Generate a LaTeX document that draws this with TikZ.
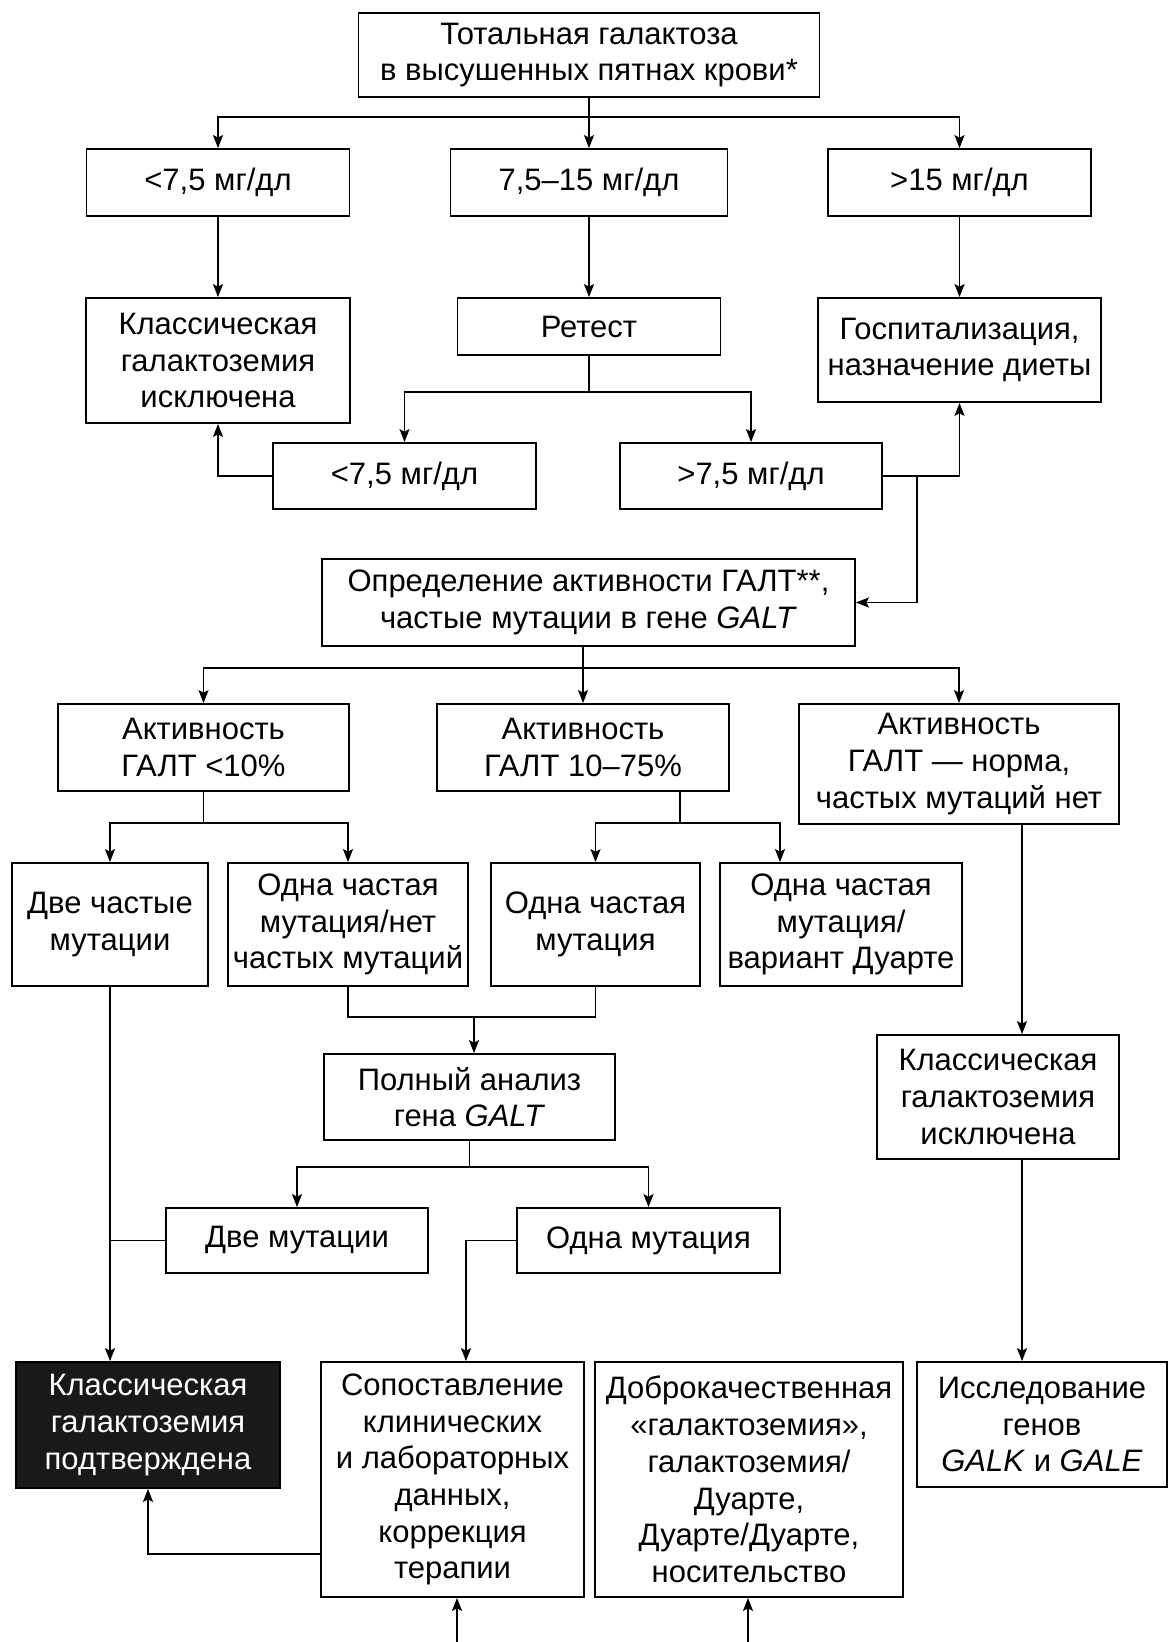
\documentclass[tikz,border=0pt]{standalone}
\usepackage{fontspec}
\setmainfont{Liberation Sans}
\usepackage{tikz}
\usetikzlibrary{positioning,arrows.meta}
\tikzset{>={Stealth[length=6.5pt,width=5pt,inset=1.3pt]}}
\tikzset{
  box/.style={draw,line width=0.9pt,align=center,inner sep=2pt,
    font=\fontsize{15.5pt}{18.35pt}\selectfont},
  wh/.style 2 args={minimum width=#1*0.5pt,minimum height=#2*0.5pt},
  darkbox/.style={box,fill=black!90,text=white},
}

\begin{document}
\begin{tikzpicture}[x=0.5pt,y=-0.5pt,line width=0.9pt]
    \useasboundingbox (0,0) rectangle (1168,1642);

    \node [box,wh={461}{84}] (top) at (589,55) {Тотальная галактоза\\в высушенных пятнах крови*};
    \node [box,wh={263}{67}] (lowA) at (218,182.5) {<7,5 мг/дл};
    \node [box,wh={277}{67}] (midA) at (589,182.5) {7,5–15 мг/дл};
    \node [box,wh={263}{67}] (highA) at (959.5,182.5) {>15 мг/дл};

    \node [box,wh={264}{125}] (exclA) at (218,360.5) {Классическая\\галактоземия\\исключена};
    \node [box,wh={263}{57}] (retest) at (589,326.5) {Ретест};
    \node [box,wh={283}{104}] (hosp) at (959.5,350) {Госпитализация,\\назначение диеты};
    \node [box,wh={263}{66}] (lowB) at (404.5,476) {<7,5 мг/дл};
    \node [box,wh={262}{66}] (highB) at (751,476) {>7,5 мг/дл};

    \node [box,wh={533}{87}] (galt) at (588.5,602.5) {Определение активности ГАЛТ**,\\частые мутации в гене \textit{GALT}};
    \node [box,wh={291}{87}] (actA) at (203.5,747.5) {Активность\\ГАЛТ <10\%};
    \node [box,wh={292}{87}] (actB) at (583,747.5) {Активность\\ГАЛТ 10–75\%};
    \node [box,wh={320}{120}] (actC) at (959,764) {Активность\\ГАЛТ — норма,\\частых мутаций нет};

    \node [box,wh={196}{123}] (twoC) at (110,924.5) {Две частые\\мутации};
    \node [box,wh={240}{123}] (oneNone) at (348,924.5) {Одна частая\\мутация/нет\\частых мутаций};
    \node [box,wh={209}{123}] (oneC) at (595.5,924.5) {Одна частая\\мутация};
    \node [box,wh={242}{123}] (oneDuarte) at (841,924.5) {Одна частая\\мутация/\\вариант Дуарте};

    \node [box,wh={291}{86}] (fullSeq) at (469.5,1097) {Полный анализ\\гена \textit{GALT}};
    \node [box,wh={242}{124}] (exclB) at (998,1097) {Классическая\\галактоземия\\исключена};
    \node [box,wh={262}{65}] (twoMut) at (297,1240.5) {Две мутации};
    \node [box,wh={263}{65}] (oneMut) at (648.5,1240.5) {Одна мутация};

    \node [darkbox,wh={264}{126}] (confirmed) at (148,1425) {Классическая\\галактоземия\\подтверждена};
    \node [box,wh={263}{235}] (compare) at (452.5,1479.5) {Сопоставление\\клинических\\и лабораторных\\данных,\\коррекция\\терапии};
    \node [box,wh={308}{235}] (benign) at (749,1479.5) {Доброкачественная\\«галактоземия»,\\галактоземия/\\Дуарте,\\Дуарте/Дуарте,\\носительство};
    \node [box,wh={250}{125}] (genes) at (1042,1424.5) {Исследование\\генов\\\textit{GALK} и \textit{GALE}};

    \coordinate (j1) at (589,117);
    \coordinate (j2) at (589,392);
    \coordinate (j3) at (917,476);
    \coordinate (j4) at (583,668);
    \coordinate (j5) at (203.5,823);
    \coordinate (j6) at (680,823);
    \coordinate (j7) at (780,823);
    \coordinate (j8) at (474,1017);
    \coordinate (xr) at (1022,1000);
    \coordinate (j10) at (469.5,1167);
    \coordinate (j11) at (466,1240.5);
    \coordinate (j12) at (148,1554);
    \coordinate (inA) at (457,1642);
    \coordinate (inB) at (748,1642);

    \path [draw,->] (top) edge (midA);
    \draw [->] (j1) -| (lowA);
    \draw [->] (j1) -| (highA);
    \path [draw,->] (lowA) edge (exclA);
    \path [draw,->] (midA) edge (retest);
    \path [draw,->] (highA) edge (hosp);

    \draw (retest) -- (j2);
    \draw [->] (j2) -| (lowB);
    \draw [->] (j2) -| (highB);
    \draw [->] (lowB.west) -| (exclA.south);
    \draw [->] (highB.east) -| (hosp.south);
    \draw [->] (j3) |- (galt.east);

    \draw [->] (galt.south -| j4) -- (actB);
    \draw [->] (j4) -| (actA);
    \draw [->] (j4) -| (actC);

    \draw (actA) -- (j5);
    \draw [->] (j5) -| (twoC);
    \draw [->] (j5) -| (oneNone);
    \draw (actB.south -| j6) -- (j6);
    \draw [->] (j6) -| (oneC);
    \draw [->] (j6) -- (j7) -- (j7 |- oneDuarte.north);

    \draw (oneNone.south) -- (oneNone.south |- j8) -| (oneC.south);
    \draw [->] (j8) -- (j8 |- fullSeq.north);

    \draw [->] (actC.south -| xr) -- (exclB.north -| xr);
    \draw [->] (exclB.south -| xr) -- (genes.north -| xr);

    \draw (fullSeq) -- (j10);
    \draw [->] (j10) -| (twoMut);
    \draw [->] (j10) -| (oneMut);

    \draw [->] (twoC.south) -- (twoC.south |- confirmed.north);
    \draw (twoMut.west) -- (twoMut.west -| twoC.south);
    \draw [->] (oneMut.west) -- (j11) -- (j11 |- compare.north);
    \draw [->] (compare.west |- j12) -- (j12) -- (confirmed);

    \draw [->] (inA) -- (inA |- compare.south);
    \draw [->] (inB) -- (inB |- benign.south);
\end{tikzpicture}
\end{document}
